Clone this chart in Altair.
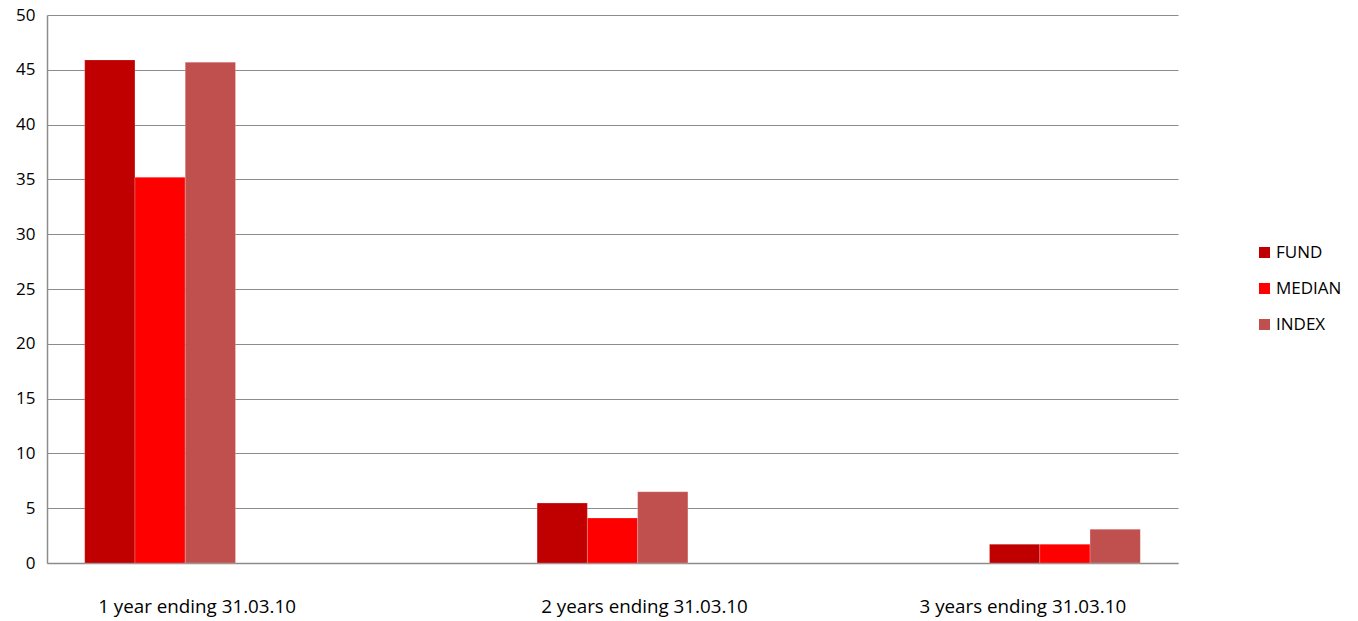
import altair as alt
import pandas as pd

periods = ["1 year ending 31.03.10", "2 years ending 31.03.10", "3 years ending 31.03.10"]
series = ["FUND", "MEDIAN", "INDEX"]
fund = [45.9, 5.47, 1.72]
median = [35.2, 4.1, 1.72]
index_ = [45.7, 6.5, 3.08]
colors = ["#C00000", "#FF0000", "#C0504D"]

rows = []
for i, p in enumerate(periods):
    for s, vals in zip(series, [fund, median, index_]):
        rows.append({"period": p, "series": s, "value": vals[i]})
df = pd.DataFrame(rows)

# x band domain with two empty slots between the periods
x_domain = [periods[0], " ", periods[1], "  ", periods[2]]
FONT = "Open Sans"
FS = 17
GRID = "#8C8C8C"

xscale = alt.Scale(domain=x_domain, paddingInner=0, paddingOuter=0)

bars = alt.Chart(df).mark_bar(stroke="#ffffff", strokeWidth=0.6, strokeOpacity=0.35).encode(
    x=alt.X("period:N", scale=xscale,
            axis=alt.Axis(labels=False, ticks=False, title=None, domainColor=GRID, domainWidth=1.5, grid=False)),
    xOffset=alt.XOffset("series:N", sort=series, scale=alt.Scale(paddingOuter=0.75, paddingInner=0)),
    y=alt.Y("value:Q", scale=alt.Scale(domain=[0, 50], nice=False),
            axis=alt.Axis(values=list(range(0, 51, 5)), title=None, ticks=False, labelPadding=12,
                          gridColor=GRID, gridWidth=1.2, domainColor=GRID, domainWidth=1.5,
                          labelFont=FONT, labelFontSize=FS, labelColor="#000000")),
    color=alt.Color("series:N", sort=series,
                    scale=alt.Scale(domain=series, range=colors),
                    legend=alt.Legend(title=None, orient="none", legendX=1209, legendY=229,
                                      symbolType="square", symbolSize=121, symbolStrokeWidth=0,
                                      labelFont=FONT, labelFontSize=FS, labelColor="#000000",
                                      labelOffset=3, rowPadding=18, padding=0)),
)

label_df = pd.DataFrame({"period": periods})
label_dx = [37, 32, -42]
layers = [bars]
for p, dx in zip(periods, label_dx):
    layers.append(
        alt.Chart(label_df).transform_filter(alt.datum.period == p).mark_text(
            font=FONT, fontSize=18.8, color="#000000", dx=dx, baseline="middle"
        ).encode(
            x=alt.X("period:N", scale=xscale),
            y=alt.value(592),
            text="period:N",
        )
    )

chart = alt.layer(*layers).properties(
    width=1131, height=548,
    autosize=alt.AutoSizeParams(type="none"),
    padding={"left": 47, "top": 15, "right": 180, "bottom": 58},
    background="#ffffff",
).configure_view(stroke=None)

chart.save("out.html", embed_options={"renderer": "svg", "actions": False})
